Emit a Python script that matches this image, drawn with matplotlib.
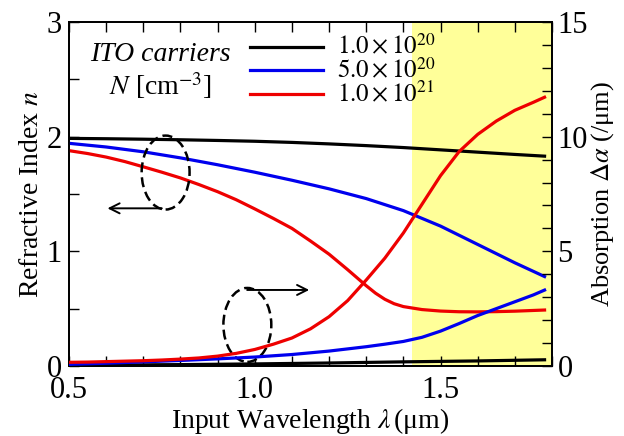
import matplotlib
matplotlib.use("Agg")
import matplotlib.pyplot as plt
from matplotlib.patches import Ellipse

plt.rcParams["font.family"] = ["Liberation Serif", "DejaVu Serif"]
plt.rcParams["mathtext.fontset"] = "stix"

# refractive index n (left axis)
lam_n_black = [0.5, 0.6, 0.7, 0.8, 0.9, 1.0, 1.1, 1.2, 1.3, 1.4, 1.5, 1.6, 1.7, 1.78]
n_black = [1.985, 1.982, 1.978, 1.973, 1.967, 1.960, 1.950, 1.937, 1.922, 1.905, 1.885, 1.865, 1.845, 1.83]

lam_n_blue = [0.5, 0.6, 0.7, 0.8, 0.9, 1.0, 1.1, 1.2, 1.3, 1.4, 1.5, 1.6, 1.7, 1.78]
n_blue = [1.942, 1.91, 1.868, 1.815, 1.755, 1.69, 1.62, 1.545, 1.46, 1.355, 1.22, 1.06, 0.90, 0.78]

lam_n_red = [0.5, 0.55, 0.6, 0.65, 0.7, 0.75, 0.8, 0.85, 0.9, 0.95, 1.0, 1.05, 1.1, 1.15,
             1.2, 1.25, 1.3, 1.325, 1.35, 1.375, 1.4, 1.45, 1.5, 1.55, 1.6, 1.65, 1.7, 1.78]
n_red = [1.878, 1.853, 1.822, 1.783, 1.737, 1.69, 1.64, 1.582, 1.52, 1.45, 1.37, 1.287, 1.20, 1.09,
         0.975, 0.84, 0.70, 0.635, 0.582, 0.543, 0.518, 0.492, 0.479, 0.473, 0.472, 0.474, 0.478, 0.488]

# absorption (right axis)
lam_a_black = [0.5, 0.8, 1.0, 1.2, 1.4, 1.6, 1.78]
a_black = [0.03, 0.06, 0.09, 0.13, 0.18, 0.22, 0.27]

lam_a_blue = [0.5, 0.6, 0.7, 0.8, 0.9, 1.0, 1.1, 1.2, 1.3, 1.35, 1.4, 1.45, 1.5, 1.55,
              1.6, 1.65, 1.7, 1.75, 1.78]
a_blue = [0.07, 0.12, 0.18, 0.24, 0.31, 0.39, 0.50, 0.65, 0.84, 0.95, 1.07, 1.25, 1.52, 1.85,
          2.2, 2.5, 2.8, 3.1, 3.31]

lam_a_red = [0.5, 0.55, 0.6, 0.65, 0.7, 0.75, 0.8, 0.85, 0.9, 0.95, 1.0, 1.05, 1.1, 1.15,
             1.2, 1.25, 1.3, 1.35, 1.4, 1.45, 1.5, 1.55, 1.6, 1.65, 1.7, 1.75, 1.78]
a_red = [0.16, 0.17, 0.19, 0.21, 0.23, 0.26, 0.30, 0.35, 0.43, 0.55, 0.72, 0.95, 1.22, 1.62,
         2.15, 2.85, 3.75, 4.7, 5.8, 7.05, 8.3, 9.35, 10.1, 10.68, 11.15, 11.5, 11.72]

carrier_labels = [r"$1.0\times10^{20}$", r"$5.0\times10^{20}$", r"$1.0\times10^{21}$"]
colors = ["black", "#0000ee", "#ee0000"]
band = (1.422, 1.8)

fig = plt.figure(figsize=(6.24, 4.36), dpi=100)
ax = fig.add_axes([0.1106, 0.1606, 0.7740, 0.7889])
ax2 = ax.twinx()

ax.axvspan(*band, color="#ffff99", zorder=0, lw=0)

lw = 2.3
for lam, val, c in zip([lam_n_black, lam_n_blue, lam_n_red], [n_black, n_blue, n_red], colors):
    ax.plot(lam, val, color=c, lw=lw, zorder=3)
for lam, val, c in zip([lam_a_black, lam_a_blue, lam_a_red], [a_black, a_blue, a_red], colors):
    ax2.plot(lam, val, color=c, lw=lw, zorder=3)

ax.set_xlim(0.5, 1.8)
ax.set_ylim(0, 3)
ax2.set_ylim(0, 15)

ax.set_xticks([0.5, 1.0, 1.5])
ax.set_xticklabels(["0.5", "1.0", "1.5"])
ax.set_xticks([x / 10 for x in range(5, 19)], minor=True)
ax.set_yticks([0, 1, 2, 3])
ax.set_yticks([0.5, 1.5, 2.5], minor=True)
ax2.set_yticks([0, 5, 10, 15])
ax2.set_yticks(range(0, 16), minor=True)

ax.tick_params(axis="both", which="both", direction="in", length=7, width=1.0,
               labelsize=22, top=True, right=False)
ax.tick_params(axis="x", pad=7)
ax.tick_params(axis="y", pad=5)
ax2.tick_params(axis="y", which="both", direction="in", length=7, width=1.0,
                labelsize=22, pad=4)
for a in (ax, ax2):
    for s in a.spines.values():
        s.set_linewidth(1.3)

ax.set_xlabel(r"Input Wavelength $\lambda\,$(μm)", fontsize=20, labelpad=1)
ax.set_ylabel(r"Refractive Index $n$", fontsize=20, labelpad=2)
ax2.set_ylabel(r"Absorption $\Delta\alpha$ (/μm)", fontsize=19, labelpad=1)

# legend drawn by hand in axes coordinates
rows_y = [0.927, 0.860, 0.791]
for lab, c, yy in zip(carrier_labels, colors, rows_y):
    ax.plot([0.375, 0.526], [yy, yy], color=c, lw=lw, transform=ax.transAxes, zorder=4)
    ax.text(0.555, yy, lab, transform=ax.transAxes, fontsize=18, va="center", ha="left")
ax.text(0.19, 0.905, "ITO carriers", transform=ax.transAxes, fontsize=20,
        style="italic", ha="center", va="center")
ax.text(0.19, 0.815, r"$N$ [cm$^{-3}$]", transform=ax.transAxes, fontsize=20,
        ha="center", va="center")

# dashed ellipses with arrows pointing to the axes
for (cx, cy) in [(0.760, 1.687), (0.980, 0.358)]:
    ax.add_patch(Ellipse((cx, cy), 0.129, 0.645, fill=False, ls=(0, (4, 2)),
                         lw=1.8, color="black", zorder=5))
ax.annotate("", xy=(0.596, 1.375), xytext=(0.757, 1.375),
            arrowprops=dict(arrowstyle="->", lw=1.4, color="black", mutation_scale=18))
ax.annotate("", xy=(1.154, 0.663), xytext=(0.972, 0.663),
            arrowprops=dict(arrowstyle="->", lw=1.4, color="black", mutation_scale=18))

fig.savefig("out.png", dpi=100)
